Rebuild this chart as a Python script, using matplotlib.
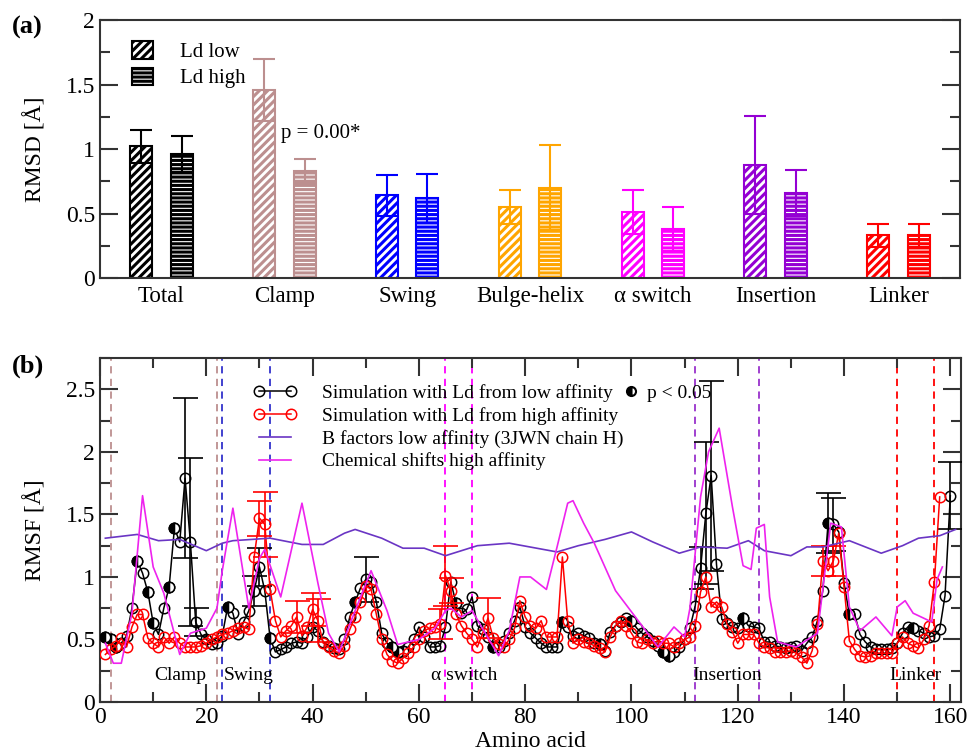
import matplotlib.pyplot as plt
import numpy as np
from matplotlib.lines import Line2D
from matplotlib.patches import Patch
from matplotlib.ticker import MultipleLocator

plt.rcParams['font.family'] = ['Liberation Serif', 'DejaVu Serif']
plt.rcParams['hatch.linewidth'] = 2.2

# ---- panel (a) data ----
regions = ['Total', 'Clamp', 'Swing', 'Bulge-helix', 'α switch', 'Insertion', 'Linker']
region_colors = ['black', '#bc8f8f', '#0000ff', '#ffa500', '#ff00ff', '#9400d3', '#ff0000']
rmsd_low = [1.02, 1.46, 0.64, 0.55, 0.51, 0.88, 0.33]
rmsd_low_err = [0.13, 0.24, 0.16, 0.13, 0.17, 0.38, 0.09]
rmsd_high = [0.96, 0.83, 0.62, 0.70, 0.38, 0.66, 0.33]
rmsd_high_err = [0.14, 0.09, 0.19, 0.33, 0.17, 0.18, 0.09]

# ---- panel (b) data ----
low_rmsf = [
    0.52, 0.50, 0.44, 0.47, 0.53, 0.75, 1.13, 1.03, 0.88, 0.63,
    0.54, 0.75, 0.92, 1.39, 1.28, 1.79, 1.28, 0.64, 0.54, 0.50,
    0.46, 0.47, 0.53, 0.76, 0.71, 0.54, 0.64, 0.73, 0.89, 1.08,
    0.89, 0.51, 0.40, 0.42, 0.44, 0.47, 0.48, 0.47, 0.52, 0.60,
    0.57, 0.48, 0.45, 0.43, 0.42, 0.50, 0.68, 0.80, 0.91, 0.98,
    0.96, 0.80, 0.55, 0.47, 0.44, 0.40, 0.41, 0.44, 0.50, 0.60,
    0.52, 0.44, 0.44, 0.45, 0.60, 0.96, 0.79, 0.71, 0.74, 0.84,
    0.61, 0.58, 0.52, 0.44, 0.44, 0.49, 0.55, 0.65, 0.76, 0.60,
    0.55, 0.51, 0.47, 0.44, 0.44, 0.44, 0.64, 0.60, 0.53, 0.55,
    0.53, 0.51, 0.47, 0.46, 0.41, 0.56, 0.61, 0.64, 0.67, 0.65,
    0.59, 0.55, 0.52, 0.49, 0.45, 0.40, 0.37, 0.40, 0.44, 0.50,
    0.59, 0.77, 1.07, 1.51, 1.81, 1.10, 0.66, 0.63, 0.60, 0.59,
    0.67, 0.61, 0.60, 0.59, 0.48, 0.48, 0.45, 0.44, 0.43, 0.44,
    0.45, 0.41, 0.47, 0.52, 0.65, 0.89, 1.43, 1.42, 1.36, 0.95,
    0.70, 0.70, 0.54, 0.48, 0.44, 0.42, 0.42, 0.42, 0.43, 0.47,
    0.55, 0.60, 0.59, 0.57, 0.55, 0.52, 0.53, 0.58, 0.85, 1.65,
]
high_rmsf = [
    0.38, 0.42, 0.45, 0.51, 0.44, 0.60, 0.70, 0.70, 0.51, 0.47,
    0.44, 0.52, 0.47, 0.52, 0.47, 0.44, 0.44, 0.44, 0.45, 0.47,
    0.50, 0.52, 0.54, 0.55, 0.57, 0.59, 0.60, 0.58, 1.16, 1.47,
    1.42, 0.90, 0.65, 0.52, 0.57, 0.61, 0.68, 0.53, 0.60, 0.74,
    0.65, 0.47, 0.44, 0.41, 0.39, 0.45, 0.58, 0.68, 0.80, 0.93,
    0.90, 0.70, 0.50, 0.38, 0.33, 0.31, 0.35, 0.39, 0.44, 0.50,
    0.57, 0.59, 0.60, 0.62, 1.01, 0.89, 0.70, 0.61, 0.55, 0.50,
    0.44, 0.55, 0.67, 0.51, 0.46, 0.44, 0.50, 0.59, 0.81, 0.68,
    0.61, 0.59, 0.65, 0.52, 0.52, 0.52, 1.16, 0.65, 0.47, 0.50,
    0.48, 0.47, 0.45, 0.43, 0.40, 0.52, 0.61, 0.65, 0.61, 0.55,
    0.48, 0.47, 0.50, 0.47, 0.49, 0.47, 0.47, 0.44, 0.47, 0.50,
    0.52, 0.61, 0.88, 1.00, 0.76, 0.80, 0.76, 0.62, 0.56, 0.47,
    0.54, 0.54, 0.54, 0.47, 0.44, 0.43, 0.40, 0.40, 0.40, 0.41,
    0.39, 0.36, 0.31, 0.41, 0.62, 1.13, 1.05, 1.13, 1.35, 0.92,
    0.49, 0.42, 0.37, 0.36, 0.37, 0.39, 0.39, 0.39, 0.39, 0.47,
    0.52, 0.47, 0.45, 0.43, 0.50, 0.61, 0.96, 1.64,
]
low_res = np.arange(1, len(low_rmsf) + 1)
high_res = np.arange(1, len(high_rmsf) + 1)

low_err_res = [16, 17, 18, 29, 30, 50, 113, 114, 115, 137, 138, 160]
low_err = [0.64, 0.67, 0.11, 0.12, 0.15, 0.18, 0.17, 0.57, 0.76, 0.24, 0.21, 0.27]
high_err_res = [30, 31, 37, 40, 41, 64, 65, 66, 73, 136, 138]
high_err = [0.14, 0.26, 0.13, 0.13, 0.17, 0.12, 0.24, 0.10, 0.16, 0.12, 0.12]

# residues with p < 0.05 (half filled markers)
signif_res = [1, 2, 3, 7, 9, 10, 13, 14, 24, 32, 48, 55, 56, 57, 67, 74, 87,
              94, 100, 106, 107, 121, 137, 141, 153]

bfac_res = [1, 7, 11, 15, 20, 23, 25, 32, 38, 42, 46, 48, 53, 57, 61, 65, 68,
            71, 77, 86, 90, 95, 100, 104, 109, 113, 118, 122, 125, 130, 133,
            136, 141, 147, 151, 154, 158, 161]
bfac = [1.31, 1.34, 1.29, 1.30, 1.21, 1.27, 1.29, 1.31, 1.26, 1.26, 1.35, 1.38,
        1.31, 1.23, 1.23, 1.17, 1.21, 1.25, 1.27, 1.20, 1.25, 1.30, 1.36, 1.28,
        1.19, 1.24, 1.23, 1.29, 1.21, 1.17, 1.24, 1.24, 1.29, 1.19, 1.25, 1.31,
        1.33, 1.38]

cs_res = [1, 2.5, 4, 6, 8, 10, 12, 15, 17, 20, 22, 23, 25, 28, 30, 31, 34, 38,
          41, 43, 45, 48, 51, 54, 56, 60, 63, 65, 66, 68, 70, 75, 77, 79, 81,
          84, 86, 88, 89, 91, 93, 97, 105, 108, 110, 111, 113, 114.5, 116.5,
          119, 121, 122.5, 123.5, 125, 126, 127.5, 131, 135, 137.5, 139.5, 141,
          143, 146, 149, 150, 151.5, 153, 156.5, 157.5, 158.5]
cs = [0.47, 0.31, 0.31, 0.71, 1.65, 1.08, 0.87, 0.38, 0.55, 0.59, 0.75, 1.05,
      1.55, 0.75, 1.15, 1.22, 0.84, 1.59, 0.95, 0.55, 0.40, 0.73, 1.05, 0.73,
      0.46, 0.50, 0.59, 0.73, 0.75, 0.68, 0.73, 0.37, 0.57, 1.00, 1.00, 0.90,
      1.24, 1.59, 1.61, 1.43, 1.27, 0.89, 0.44, 0.60, 0.52, 0.75, 1.64, 2.00,
      2.19, 1.56, 1.09, 1.06, 1.39, 1.42, 0.84, 0.48, 0.44, 0.55, 1.43, 1.40,
      0.76, 0.57, 0.68, 0.53, 0.76, 0.81, 0.71, 0.64, 0.98, 1.08]

bounds = [2, 22, 23, 32, 65, 70, 112, 124, 150, 157]
bound_colors = ['#bc8f8f', '#bc8f8f', '#3333cc', '#3333cc', '#ff00ff', '#ff00ff',
                '#9932cc', '#9932cc', '#ff0000', '#ff0000']
label_names = ['Clamp', 'Swing', 'α switch', 'Insertion', 'Linker']
label_pos = [15, 28, 68.5, 118, 153.5]

spine_col = '#333333'

fig = plt.figure(figsize=(9.75, 7.54), dpi=100)
ax1 = fig.add_axes([0.1026, 0.6313, 0.882, 0.342])
ax2 = fig.add_axes([0.1026, 0.069, 0.883, 0.456])

# ---- (a) ----
x = np.arange(len(regions))
w = 0.18
for i in range(len(regions)):
    c = region_colors[i]
    ax1.bar(x[i] - 0.165, rmsd_low[i], w, facecolor='white', edgecolor=c,
            hatch='////', linewidth=1.5, zorder=2)
    ax1.bar(x[i] + 0.165, rmsd_high[i], w, facecolor='white', edgecolor=c,
            hatch='----', linewidth=1.5, zorder=2)
    ax1.errorbar(x[i] - 0.165, rmsd_low[i], yerr=rmsd_low_err[i], fmt='none',
                 ecolor=c, elinewidth=1.5, capsize=8, capthick=1.5, zorder=3)
    ax1.errorbar(x[i] + 0.165, rmsd_high[i], yerr=rmsd_high_err[i], fmt='none',
                 ecolor=c, elinewidth=1.5, capsize=8, capthick=1.5, zorder=3)

ax1.set_xlim(-0.5, 6.5)
ax1.set_ylim(0, 2)
ax1.set_xticks(x)
ax1.set_xticklabels(regions, fontsize=16.5)
ax1.yaxis.set_major_locator(MultipleLocator(0.5))
ax1.yaxis.set_minor_locator(MultipleLocator(0.25))
ax1.set_yticks([0, 0.5, 1, 1.5, 2])
ax1.set_yticklabels(['0', '0.5', '1', '1.5', '2'])
ax1.tick_params(axis='y', which='both', direction='in', right=True,
                labelsize=17, color=spine_col, width=1.5)
ax1.tick_params(axis='y', which='major', length=13)
ax1.tick_params(axis='y', which='minor', length=7)
ax1.tick_params(axis='x', length=0, pad=6)
ax1.set_ylabel('RMSD [Å]', fontsize=17, labelpad=14)
for s in ax1.spines.values():
    s.set_color(spine_col)
    s.set_linewidth(1.5)
ax1.text(0.97, 1.12, 'p = 0.00*', fontsize=15, va='center')

h_low = Patch(facecolor='white', edgecolor='black', hatch='////', linewidth=1.5)
h_high = Patch(facecolor='white', edgecolor='black', hatch='----', linewidth=1.5)
ax1.legend([h_low, h_high], ['Ld low', 'Ld high'], loc='upper left',
           bbox_to_anchor=(0.015, 0.99), frameon=False, fontsize=15,
           handlelength=1.0, handleheight=0.9, handletextpad=1.3,
           labelspacing=0.25)

# ---- (b) ----
for b, c in zip(bounds, bound_colors):
    ax2.axvline(b, color=c, linestyle=(0, (4, 3)), linewidth=1.3, zorder=1)

ax2.errorbar(low_err_res, [low_rmsf[r - 1] for r in low_err_res], yerr=low_err,
             fmt='none', ecolor='black', elinewidth=1.2, capsize=9, capthick=1.2,
             zorder=3)
ax2.errorbar(high_err_res, [high_rmsf[r - 1] for r in high_err_res], yerr=high_err,
             fmt='none', ecolor='red', elinewidth=1.2, capsize=9, capthick=1.2,
             zorder=4)

ax2.plot(low_res, low_rmsf, '-o', color='black', mfc='none', mec='black',
         ms=7.5, mew=1.1, lw=1.1, zorder=3)
ax2.plot(signif_res, [low_rmsf[r - 1] for r in signif_res], 'o', ls='none',
         mec='black', mfc='black', mfcalt='white', fillstyle='left',
         ms=7.5, mew=1.1, zorder=3.5)
ax2.plot(high_res, high_rmsf, '-o', color='red', mfc='none', mec='red',
         ms=7.5, mew=1.1, lw=1.1, zorder=4)
ax2.plot(bfac_res, bfac, '-', color='#6a35c4', lw=1.2, zorder=5)
ax2.plot(cs_res, cs, '-', color='#ee22ee', lw=1.2, zorder=5)

for name, xp in zip(label_names, label_pos):
    ax2.text(xp, 0.21, name, ha='center', va='center', fontsize=14, zorder=6)

ax2.set_xlim(0, 162)
ax2.set_ylim(0, 2.75)
ax2.xaxis.set_major_locator(MultipleLocator(20))
ax2.xaxis.set_minor_locator(MultipleLocator(10))
ax2.yaxis.set_major_locator(MultipleLocator(0.5))
ax2.yaxis.set_minor_locator(MultipleLocator(0.25))
ax2.set_yticks([0, 0.5, 1, 1.5, 2, 2.5])
ax2.set_yticklabels(['0', '0.5', '1', '1.5', '2', '2.5'])
ax2.tick_params(which='both', direction='in', top=True, right=True,
                labelsize=17, color=spine_col, width=1.5)
ax2.tick_params(which='major', length=13)
ax2.tick_params(which='minor', length=7)
ax2.set_xlabel('Amino acid', fontsize=17, labelpad=2)
ax2.set_ylabel('RMSF [Å]', fontsize=17, labelpad=14)
for s in ax2.spines.values():
    s.set_color(spine_col)
    s.set_linewidth(1.5)

handles = [
    Line2D([], [], color='black', marker='o', mfc='none', ms=7.5, mew=1.1, lw=1.1),
    Line2D([], [], color='red', marker='o', mfc='none', ms=7.5, mew=1.1, lw=1.1),
    Line2D([], [], color='#6a35c4', lw=1.2),
    Line2D([], [], color='#ee22ee', lw=1.2),
]
labels = ['Simulation with Ld from low affinity',
          'Simulation with Ld from high affinity',
          'B factors low affinity (3JWN chain H)',
          'Chemical shifts high affinity']
leg = ax2.legend(handles, labels, loc='upper left', bbox_to_anchor=(0.158, 0.975),
                 frameon=False, fontsize=14, numpoints=2, handlelength=2.2,
                 handletextpad=1.3, labelspacing=0.25)
ax2.add_artist(leg)
sig_handle = Line2D([], [], ls='none', marker='o', mec='black', mfc='black',
                    mfcalt='white', fillstyle='left', ms=6.5, mew=1.5)
ax2.legend([sig_handle], ['p < 0.05'], loc='upper left',
           bbox_to_anchor=(0.59, 0.975), frameon=False, fontsize=14,
           handlelength=0.6, handletextpad=0.5)

fig.text(0.012, 0.955, '(a)', fontsize=19, fontweight='bold')
fig.text(0.012, 0.506, '(b)', fontsize=19, fontweight='bold')

fig.savefig('out.png', dpi=100)
